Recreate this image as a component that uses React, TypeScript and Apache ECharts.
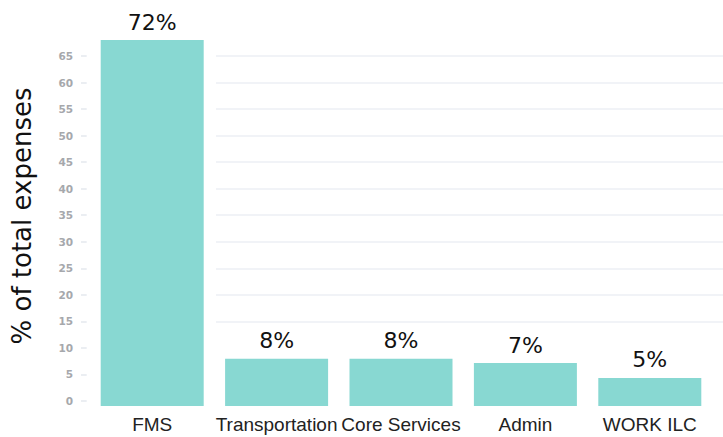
import React, { useEffect, useRef } from "react";
import * as echarts from "echarts";

const categories = ["FMS", "Transportation", "Core Services", "Admin", "WORK ILC"];
// bar heights as drawn (relative to the bar baseline)
const barValues = [69, 8.9, 8.9, 8.1, 5.3];
// percentage labels printed above the bars
const labelValues = [72, 8, 8, 7, 5];
// visible tick axis
const tickMin = 0;
const tickMax = 65;
const tickStep = 5;
const yAxisTitle = "% of total expenses";

export default function App() {
  const ref = useRef<HTMLDivElement>(null);
  useEffect(() => {
    if (!ref.current) return;
    const chart = echarts.init(ref.current, null, { renderer: "svg" });
    chart.setOption({
      animation: false,
      backgroundColor: "#ffffff",
      grid: [
        { left: 86, right: 0, top: 56, bottom: 36 },
        { left: 90, right: 11, top: 40, bottom: 31 },
      ],
      xAxis: [
        { gridIndex: 0, type: "category", data: categories, show: false },
        {
          gridIndex: 1,
          type: "category",
          data: categories,
          axisLine: { show: false },
          axisTick: { show: false },
          axisLabel: {
            fontFamily: "Liberation Sans",
            fontSize: 19,
            color: "#222222",
            margin: 9,
            interval: 0,
          },
        },
      ],
      yAxis: [
        {
          gridIndex: 0,
          type: "value",
          min: tickMin,
          max: tickMax,
          interval: tickStep,
          axisLine: { show: false },
          axisTick: { show: true, length: 5, lineStyle: { color: "#e4e8ee", width: 1.5 } },
          axisLabel: {
            fontFamily: "DejaVu Sans",
            fontWeight: "bold",
            fontSize: 10.5,
            color: "#a6a8ac",
            margin: 13,
          },
          splitLine: { show: true, lineStyle: { color: "#eceff4", width: 1.5 } },
        },
        {
          gridIndex: 1,
          type: "value",
          min: 0,
          max: 69,
          show: false,
          splitLine: { show: false },
        },
      ],
      graphic: [
        {
          type: "rect",
          z: 1,
          shape: { x: 87, y: 0, width: 129, height: 406 },
          style: { fill: "#ffffff" },
        },
        {
          type: "rect",
          z: 1,
          shape: { x: 216, y: 330, width: 507, height: 76 },
          style: { fill: "#ffffff" },
        },
        {
          type: "text",
          z: 5,
          x: 22,
          y: 216,
          rotation: Math.PI / 2,
          style: {
            text: yAxisTitle,
            font: "26px 'DejaVu Sans'",
            fill: "#111111",
            align: "center",
            verticalAlign: "middle",
          },
        },
      ],
      series: [
        {
          type: "bar",
          xAxisIndex: 1,
          yAxisIndex: 1,
          data: barValues,
          barWidth: 103,
          clip: false,
          itemStyle: { color: "#88d8d2" },
          label: {
            show: true,
            position: "top",
            distance: 7,
            fontFamily: "DejaVu Sans",
            fontSize: 22,
            color: "#111111",
            formatter: (p: any) => labelValues[p.dataIndex] + "%",
          },
        },
      ],
    });
    return () => chart.dispose();
  }, []);
  return (
    <div
      ref={ref}
      style={{ position: "fixed", left: 0, top: 0, width: 723, height: 437 }}
    />
  );
}
